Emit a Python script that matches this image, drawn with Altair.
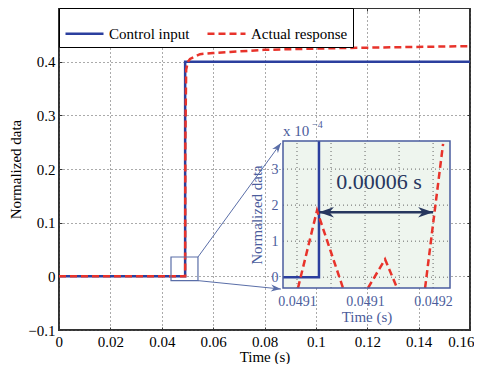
import altair as alt
import pandas as pd

SERIF = "Liberation Serif"
BLUE = "#2b3f9e"
RED = "#e8332b"
BOX = "#4a5c9e"
INK = "#4b5c9c"
NAVY = "#27375f"
BG = "#eef5ee"
GRID = "#555555"
FRAME = "#333333"

SERIES = ["Control input", "Actual response"]

# ---- main chart data ----
ctrl_t = [0.0, 0.04911, 0.04911, 0.16]
ctrl_y = [0.0, 0.0, 0.4, 0.4]
resp_t = [0.0, 0.04911, 0.04918, 0.0495, 0.0502, 0.0510, 0.0549, 0.0600,
          0.0666, 0.0798, 0.1055, 0.1327, 0.16]
resp_y = [0.0, 0.0, 0.25, 0.385, 0.400, 0.405, 0.414, 0.416,
          0.418, 0.422, 0.425, 0.427, 0.429]

X_DOMAIN = [0, 0.16]
Y_DOMAIN = [-0.1, 0.5]
X_TICKS = [0, 0.02, 0.04, 0.06, 0.08, 0.1, 0.12, 0.14, 0.16]
Y_TICKS = [-0.1, 0, 0.1, 0.2, 0.3, 0.4]

# zoom box and connectors (main data units)
zoom_t = [0.0436, 0.0541]
zoom_y = [-0.008, 0.036]
conn_t0 = [0.0541, 0.0541]
conn_y0 = [0.036, -0.008]
conn_t1 = [0.0864, 0.0864]
conn_y1 = [0.2484, -0.0237]
conn_angle = [306, 6]

# ---- inset data (y in units of 1e-4) ----
INSET_X = [0.0490928, 0.0491787]
INSET_Y = [-0.3, 3.78]
INSET_XRANGE = [224, 391]
INSET_YRANGE = [280, 133]
inset_xgrid = [0.0491, 0.0491175, 0.049135, 0.0491525, 0.04917]
inset_ygrid = [0, 1, 2, 3]
inset_xticks = [0.0491, 0.049135, 0.04917]
inset_yticks = [0, 1, 2, 3]
in_ctrl_t = [0.0490928, 0.0491113, 0.0491113]
in_ctrl_y = [0.0, 0.0, 3.78]
in_resp_seg = [0, 0, 0, 1, 1, 1, 2, 2]
in_resp_t = [0.04910051, 0.04911029, 0.04912367, 0.04913654, 0.04914529,
             0.04915147, 0.04916588, 0.04917514]
in_resp_y = [-0.3, 1.85, -0.3, -0.3, 0.5, -0.3, -0.3, 3.7]
arrow_t = [0.0491113, 0.049170]
arrow_y = [1.8, 1.8]
arrow_angle = [180, 0]
gap_label = "0.00006 s"
gap_t = 0.0491422
gap_y = 2.64

ARROW_PATH = "M0,0L-2,-0.7L-1.4,0L-2,0.7Z"

# ---- frames ----
df_ctrl = pd.DataFrame({"t": ctrl_t, "y": ctrl_y, "series": SERIES[0], "i": range(len(ctrl_t))})
df_resp = pd.DataFrame({"t": resp_t, "y": resp_y, "series": SERIES[1], "i": range(len(resp_t))})
df_zoom = pd.DataFrame({"t": [zoom_t[0]], "t2": [zoom_t[1]], "y": [zoom_y[0]], "y2": [zoom_y[1]]})
df_conn = pd.DataFrame({"t": conn_t0, "t2": conn_t1, "y": conn_y0, "y2": conn_y1})
df_head = pd.DataFrame({"t": conn_t1, "y": conn_y1, "ang": conn_angle})
df_frame = pd.DataFrame({"t": X_DOMAIN, "y": Y_DOMAIN})

legend = alt.Legend(
    orient="top-left", direction="horizontal", title=None, offset=0, padding=5,
    strokeColor="black", fillColor="white", symbolType="stroke", symbolSize=1444,
    symbolStrokeWidth=2.5, labelFont=SERIF, labelFontSize=15, labelOffset=4,
    columnPadding=12, labelColor="black",
)
color = alt.Color("series:N", scale=alt.Scale(domain=SERIES, range=[BLUE, RED]), legend=legend)
dash = alt.StrokeDash("series:N", scale=alt.Scale(domain=SERIES, range=[[1, 0], [7, 4]]), legend=legend)

x_main = alt.X(
    "t:Q",
    scale=alt.Scale(domain=X_DOMAIN, nice=False, zero=False),
    axis=alt.Axis(values=X_TICKS, format=".2~f", title="Time (s)", orient="bottom",
                  grid=True, gridDash=[1, 3], gridColor=GRID, domain=False, ticks=False,
                  labelPadding=4, titlePadding=0, labelFlush=True, labelFlushOffset=4,
                  labelOverlap=False),
)
y_main = alt.Y(
    "y:Q",
    scale=alt.Scale(domain=Y_DOMAIN, nice=False, zero=False),
    axis=alt.Axis(values=Y_TICKS, format=".1~f", title="Normalized data", orient="left",
                  grid=True, gridDash=[1, 3], gridColor=GRID, domain=False, ticks=False,
                  labelPadding=4, titlePadding=4, labelOverlap=False),
)

ctrl_line = alt.Chart(df_ctrl).mark_line(strokeWidth=2.5).encode(
    x=x_main, y=y_main, color=color, strokeDash=dash, order="i:Q")
resp_line = alt.Chart(df_resp).mark_line(strokeWidth=2.5).encode(
    x="t:Q", y="y:Q", color=color, strokeDash=dash, order="i:Q")
zoom_rect = alt.Chart(df_zoom).mark_rect(fillOpacity=0, stroke="#5a6ea8", strokeWidth=1.2).encode(
    x="t:Q", x2="t2", y="y:Q", y2="y2")
conn = alt.Chart(df_conn).mark_rule(color="#5a6ea8", strokeWidth=1).encode(
    x="t:Q", x2="t2", y="y:Q", y2="y2")
conn_heads = alt.Chart(df_head).mark_point(shape=ARROW_PATH, filled=True, size=100,
                                           color="#5a6ea8", opacity=1).encode(
    x="t:Q", y="y:Q", angle=alt.Angle("ang:Q", scale=None))

main = alt.layer(ctrl_line, resp_line, zoom_rect, conn, conn_heads)


# inward tick marks on all four sides of the frame (MATLAB style)
def tick_layer(xorient, yorient):
    return alt.Chart(df_frame).mark_point(opacity=0).encode(
        x=alt.X("t:Q", scale=alt.Scale(domain=X_DOMAIN, nice=False, zero=False),
                axis=alt.Axis(orient=xorient, offset=-3, values=X_TICKS, labels=False, domain=False,
                              grid=False, ticks=True, tickSize=3, tickColor=FRAME, tickWidth=1,
                              title=None)),
        y=alt.Y("y:Q", scale=alt.Scale(domain=Y_DOMAIN, nice=False, zero=False),
                axis=alt.Axis(orient=yorient, offset=-3, values=Y_TICKS, labels=False, domain=False,
                              grid=False, ticks=True, tickSize=3, tickColor=FRAME, tickWidth=1,
                              title=None)),
    )


ticks_a = tick_layer("bottom", "left")
ticks_b = tick_layer("top", "right")

# ---- inset ----
df_box = pd.DataFrame({"u": [INSET_X[0]], "u2": [INSET_X[1]], "v": [INSET_Y[0]], "v2": [INSET_Y[1]]})
df_gx = pd.DataFrame({"u": inset_xgrid})
df_gy = pd.DataFrame({"v": inset_ygrid})
df_ic = pd.DataFrame({"u": in_ctrl_t, "v": in_ctrl_y, "i": range(len(in_ctrl_t))})
df_ir = pd.DataFrame({"u": in_resp_t, "v": in_resp_y, "seg": in_resp_seg, "i": range(len(in_resp_t))})
df_arrow = pd.DataFrame({"u": [arrow_t[0]], "u2": [arrow_t[1]], "v": [arrow_y[0]]})
df_aheads = pd.DataFrame({"u": arrow_t, "v": arrow_y, "ang": arrow_angle})
df_gap = pd.DataFrame({"u": [gap_t], "v": [gap_y], "txt": [gap_label]})
df_exp = pd.DataFrame({"u": [INSET_X[0]], "v": [INSET_Y[1]]})

x_in = alt.X(
    "u:Q",
    scale=alt.Scale(domain=INSET_X, range=INSET_XRANGE, nice=False, zero=False),
    axis=alt.Axis(orient="bottom", offset=-42, values=inset_xticks, format=".3r", title="Time (s)",
                  grid=False, domain=False, ticks=False, labelColor=INK, titleColor=INK,
                  labelFontSize=14, titleFontSize=15, labelPadding=6, titlePadding=1,
                  labelFlush=False, labelOverlap=False),
)
y_in = alt.Y(
    "v:Q",
    scale=alt.Scale(domain=INSET_Y, range=INSET_YRANGE, nice=False, zero=False),
    axis=alt.Axis(orient="left", offset=-224, values=inset_yticks, format="d", title="Normalized data",
                  grid=False, domain=False, ticks=False, labelColor=INK, titleColor=INK,
                  labelFontSize=14, titleFontSize=15, labelPadding=5, titlePadding=7,
                  labelOverlap=False),
)

in_bg = alt.Chart(df_box).mark_rect(fill=BG, strokeOpacity=0).encode(x=x_in, x2="u2", y=y_in, y2="v2")
in_gx = alt.Chart(df_gx).mark_rule(color="#666666", strokeDash=[1, 3], strokeWidth=1).encode(
    x="u:Q", y=alt.datum(INSET_Y[0]), y2=alt.datum(INSET_Y[1]))
in_gy = alt.Chart(df_gy).mark_rule(color="#666666", strokeDash=[1, 3], strokeWidth=1).encode(
    y="v:Q", x=alt.datum(INSET_X[0]), x2=alt.datum(INSET_X[1]))
in_ctrl = alt.Chart(df_ic).mark_line(color=BLUE, strokeWidth=2.5).encode(x="u:Q", y="v:Q", order="i:Q")
in_resp = alt.Chart(df_ir).mark_line(color=RED, strokeWidth=2.5, strokeDash=[7, 4]).encode(
    x="u:Q", y="v:Q", detail="seg:N", order="i:Q")
in_arrow = alt.Chart(df_arrow).mark_rule(color=NAVY, strokeWidth=2.5).encode(x="u:Q", x2="u2", y="v:Q")
in_aheads = alt.Chart(df_aheads).mark_point(shape=ARROW_PATH, filled=True, size=225,
                                            color=NAVY, opacity=1).encode(
    x="u:Q", y="v:Q", angle=alt.Angle("ang:Q", scale=None))
in_gap = alt.Chart(df_gap).mark_text(font=SERIF, fontSize=22, color=NAVY, align="center",
                                     baseline="middle").encode(x="u:Q", y="v:Q", text="txt:N")
in_exp = alt.Chart(df_exp).mark_text(font=SERIF, fontSize=15, color=INK, align="left",
                                     baseline="alphabetic", dy=-5, text="x 10").encode(x="u:Q", y="v:Q")
in_sup = alt.Chart(df_exp).mark_text(font=SERIF, fontSize=10, color=INK, align="left",
                                     baseline="alphabetic", dx=29, dy=-13, text="\u22124").encode(x="u:Q", y="v:Q")
in_border = alt.Chart(df_box).mark_rect(fillOpacity=0, stroke=BOX, strokeWidth=1.5).encode(
    x="u:Q", x2="u2", y="v:Q", y2="v2")

inset = alt.layer(in_bg, in_gx, in_gy, in_ctrl, in_resp, in_arrow, in_aheads, in_gap, in_exp, in_sup, in_border)

chart = alt.layer(main, inset, ticks_a, ticks_b).resolve_scale(x="independent", y="independent").properties(
    width=411, height=322, autosize=alt.AutoSizeParams(type="none"),
    padding={"left": 51, "top": 0, "right": 4, "bottom": 34},
).configure(font=SERIF).configure_view(stroke=FRAME, strokeWidth=2).configure_axis(
    labelFont=SERIF, titleFont=SERIF, labelFontSize=15, titleFontSize=15,
    titleFontWeight="normal", labelColor="black", titleColor="black",
)

chart.save("out.html", embed_options={"renderer": "svg", "actions": False})
